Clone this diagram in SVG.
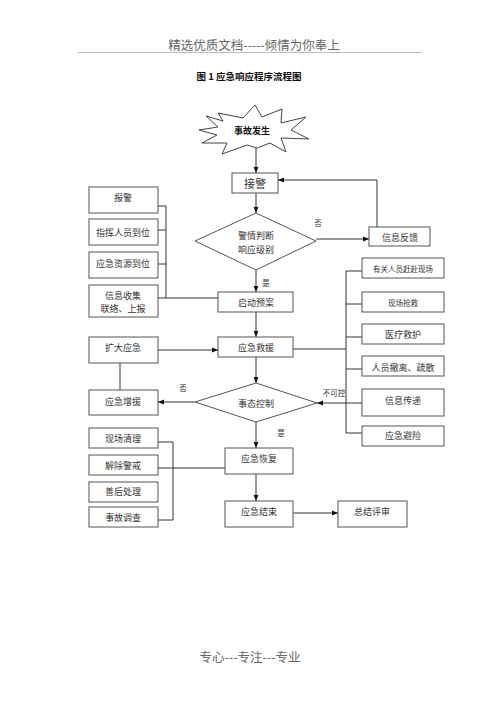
<svg xmlns="http://www.w3.org/2000/svg" width="500" height="707" viewBox="0 0 500 707">
<defs>
<marker id="ah" viewBox="0 0 10 10" refX="10" refY="5" markerWidth="6" markerHeight="6" orient="auto" markerUnits="userSpaceOnUse">
<path d="M0,1 L10,5 L0,9 z" fill="#111"/>
</marker>
<style>
.bx{fill:#fff;stroke:#555;stroke-width:1}
.t{font-family:"Noto Sans CJK SC","Noto Sans CJK JP",sans-serif;font-size:9px;fill:#333;text-anchor:middle;dominant-baseline:central}
.ln{fill:none;stroke:#333;stroke-width:1}
.ar{fill:none;stroke:#333;stroke-width:1;marker-end:url(#ah)}
.hd{font-family:"Noto Sans CJK SC",sans-serif;font-size:12.5px;fill:#666;text-anchor:middle;dominant-baseline:central}
</style>
</defs>
<rect width="500" height="707" fill="#fff"/>
<g id="header">
<text class="hd" x="254" y="44">精选优质文档-----倾情为你奉上</text>
<line x1="78" y1="52.5" x2="422" y2="52.5" stroke="#aaa" stroke-width="0.8"/>
<text class="t" x="249" y="76" style="font-weight:bold;font-size:9.5px;fill:#111">图 1 应急响应程序流程图</text>
</g>
<g id="connectors">
<line class="ar" x1="256" y1="148" x2="256" y2="173"/>
<line class="ar" x1="256" y1="193" x2="256" y2="213"/>
<line class="ar" x1="316" y1="239" x2="369" y2="239"/>
<polyline class="ar" points="377,227 377,180 278,180"/>
<line class="ar" x1="256" y1="270" x2="256" y2="292"/>
<polyline class="ln" points="158,206 166,206"/>
<polyline class="ln" points="158,230 166,230"/>
<polyline class="ln" points="158,264 166,264"/>
<polyline class="ln" points="166,206 166,298"/>
<line class="ln" x1="158" y1="298" x2="218" y2="298"/>
<line class="ar" x1="256" y1="312" x2="256" y2="337"/>
<line class="ar" x1="158" y1="350" x2="218" y2="350"/>
<line class="ln" x1="120" y1="363" x2="120" y2="390"/>
<line class="ln" x1="293" y1="349" x2="346" y2="349"/>
<line class="ln" x1="346" y1="271" x2="346" y2="433"/>
<line class="ln" x1="346" y1="271" x2="362" y2="271"/>
<line class="ln" x1="346" y1="304" x2="362" y2="304"/>
<line class="ln" x1="346" y1="337" x2="362" y2="337"/>
<line class="ln" x1="346" y1="369" x2="362" y2="369"/>
<line class="ln" x1="346" y1="433" x2="362" y2="433"/>
<line class="ar" x1="362" y1="403" x2="317" y2="403"/>
<line class="ar" x1="256" y1="357" x2="256" y2="383"/>
<line class="ar" x1="195" y1="402" x2="158" y2="402"/>
<line class="ar" x1="256" y1="422" x2="256" y2="448"/>
<line class="ln" x1="158" y1="442" x2="173" y2="442"/>
<line class="ln" x1="158" y1="520" x2="173" y2="520"/>
<line class="ln" x1="173" y1="442" x2="173" y2="520"/>
<line class="ln" x1="158" y1="468" x2="225" y2="468"/>
<line class="ar" x1="256" y1="474" x2="256" y2="501"/>
<line class="ar" x1="293" y1="513" x2="338" y2="513"/>
<text class="t" x="318" y="222" style="font-size:7.5px">否</text>
<text class="t" x="266" y="282" style="font-size:7.5px">是</text>
<text class="t" x="334" y="392" style="font-size:7.5px">不可控</text>
<text class="t" x="183" y="387" style="font-size:7.5px">否</text>
<text class="t" x="281" y="432" style="font-size:7.5px">是</text>
</g>
<g id="n-start">
<polygon points="218,113 243,118 255,105 262,117 282,109 281,123 306,117 291,130 309,139 281,138 286,152 270,143 257,148 247,145 222,154 227,143 202,143 217,135 199,130 218,127 206,116 223,121" fill="#fff" stroke="#444" stroke-width="1"/>
<text class="t" x="252" y="130" style="font-weight:bold;fill:#111">事故发生</text>
</g>
<g id="n-jiejing"><rect class="bx" x="232" y="173" width="46" height="20"/><text class="t" x="255" y="183" style="font-size:11px">接警</text></g>
<g id="n-judge"><polygon class="bx" points="256,213 316,241 256,270 195,241"/><text class="t" x="256" y="235">警情判断</text><text class="t" x="256" y="249">响应级别</text></g>
<g id="n-feedback"><rect class="bx" x="369" y="227" width="61" height="19"/><text class="t" x="400" y="237">信息反馈</text></g>
<g id="n-baojing"><rect class="bx" x="89" y="187" width="69" height="26"/><text class="t" x="123" y="197">报警</text></g>
<g id="n-zhihui"><rect class="bx" x="89" y="219" width="69" height="26"/><text class="t" x="123" y="232">指挥人员到位</text></g>
<g id="n-ziyuan"><rect class="bx" x="89" y="252" width="69" height="26"/><text class="t" x="123" y="263">应急资源到位</text></g>
<g id="n-xinxi"><rect class="bx" x="89" y="285" width="69" height="32"/><text class="t" x="123" y="295">信息收集</text><text class="t" x="123" y="308">联络、上报</text></g>
<g id="n-qidong"><rect class="bx" x="218" y="292" width="75" height="20"/><text class="t" x="256" y="302">启动预案</text></g>
<g id="n-youguan"><rect class="bx" x="362" y="258" width="82" height="20"/><text class="t" x="403" y="268" style="font-size:7.5px">有关人员赶赴现场</text></g>
<g id="n-qiangjiu"><rect class="bx" x="362" y="292" width="82" height="20"/><text class="t" x="403" y="302" style="font-size:7.5px">现场抢救</text></g>
<g id="n-yiliao"><rect class="bx" x="362" y="324" width="82" height="20"/><text class="t" x="403" y="334">医疗救护</text></g>
<g id="n-chesan"><rect class="bx" x="362" y="356" width="82" height="20"/><text class="t" x="403" y="367">人员撤离、疏散</text></g>
<g id="n-chuandi"><rect class="bx" x="362" y="389" width="82" height="27"/><text class="t" x="403" y="400">信息传递</text></g>
<g id="n-bixian"><rect class="bx" x="362" y="426" width="82" height="20"/><text class="t" x="403" y="435">应急避险</text></g>
<g id="n-kuoda"><rect class="bx" x="89" y="337" width="69" height="26"/><text class="t" x="123" y="347">扩大应急</text></g>
<g id="n-jiuyuan"><rect class="bx" x="218" y="337" width="75" height="20"/><text class="t" x="256" y="347">应急救援</text></g>
<g id="n-control"><polygon class="bx" points="256,383 317,403 256,422 195,402"/><text class="t" x="256" y="403">事态控制</text></g>
<g id="n-zengyuan"><rect class="bx" x="89" y="390" width="69" height="25"/><text class="t" x="123" y="401">应急增援</text></g>
<g id="n-qingli"><rect class="bx" x="89" y="428" width="69" height="20"/><text class="t" x="123" y="438">现场清理</text></g>
<g id="n-jiechu"><rect class="bx" x="89" y="455" width="69" height="20"/><text class="t" x="123" y="465">解除警戒</text></g>
<g id="n-shanhou"><rect class="bx" x="89" y="482" width="69" height="20"/><text class="t" x="123" y="491">善后处理</text></g>
<g id="n-diaocha"><rect class="bx" x="89" y="507" width="69" height="20"/><text class="t" x="123" y="517">事故调查</text></g>
<g id="n-huifu"><rect class="bx" x="225" y="448" width="68" height="26"/><text class="t" x="259" y="458">应急恢复</text></g>
<g id="n-jieshu"><rect class="bx" x="225" y="501" width="68" height="26"/><text class="t" x="259" y="511">应急结束</text></g>
<g id="n-pingshen"><rect class="bx" x="338" y="501" width="69" height="26"/><text class="t" x="372" y="511">总结评审</text></g>
<g id="footer"><text class="hd" x="250" y="656">专心---专注---专业</text></g>
</svg>
